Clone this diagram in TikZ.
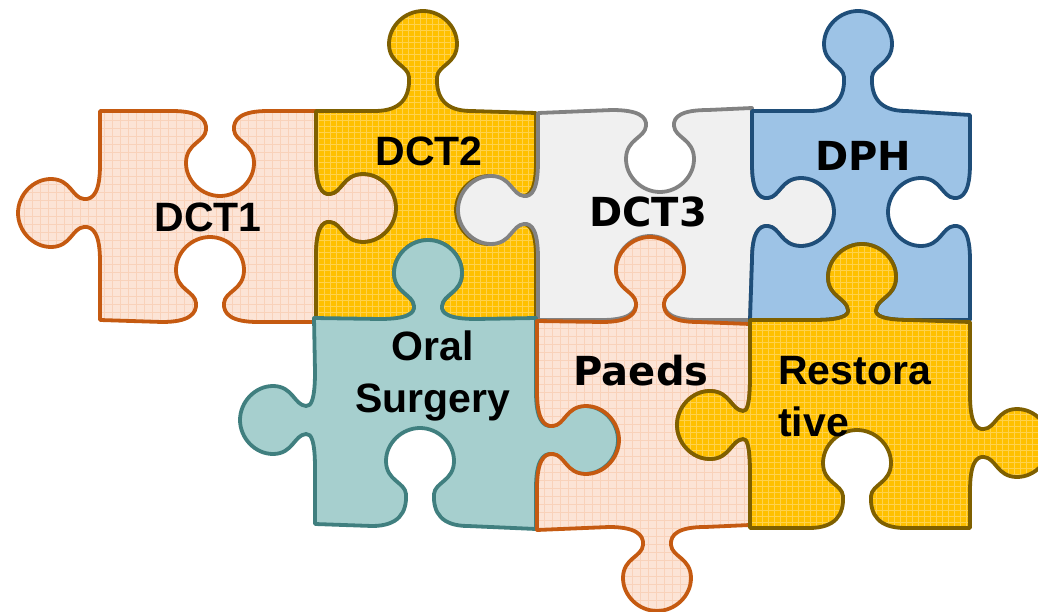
\documentclass[tikz,border=0pt]{standalone}
\usepackage{fontspec}
\setmainfont{Liberation Sans}
\newfontfamily\dejavu{DejaVu Sans}
\definecolor{peachF}{HTML}{FCE4D6}
\definecolor{peachG}{HTML}{F9D2BA}
\definecolor{peachB}{HTML}{C55A11}
\definecolor{goldF}{HTML}{FFC000}
\definecolor{goldG}{HTML}{FFD24D}
\definecolor{goldB}{HTML}{7F6000}
\definecolor{grayF}{HTML}{F0F0F0}
\definecolor{grayB}{HTML}{828282}
\definecolor{blueF}{HTML}{9DC3E6}
\definecolor{blueB}{HTML}{1F4E79}
\definecolor{tealF}{HTML}{A6CFCE}
\definecolor{tealB}{HTML}{407F7F}
% knob: #1 cx, #2 cy, #3 ux, #4 uy (travel), #5 vx, #6 vy (knob direction), #7 depth
\newcommand\pzknob[7]{%
 -- ({#1+(-48)*(#3)},{#2+(-48)*(#4)})
 .. controls ({#1+(-22)*(#3)},{#2+(-22)*(#4)}) and ({#1+(-13)*(#3)+(0.4*(#7-66))*(#5)},{#2+(-13)*(#4)+(0.4*(#7-66))*(#6)})
 .. ({#1+(-14)*(#3)+(#7-66)*(#5)},{#2+(-14)*(#4)+(#7-66)*(#6)})
 .. controls ({#1+(-15)*(#3)+(#7-54)*(#5)},{#2+(-15)*(#4)+(#7-54)*(#6)}) and ({#1+(-34)*(#3)+(#7-53)*(#5)},{#2+(-34)*(#4)+(#7-53)*(#6)})
 .. ({#1+(-34)*(#3)+(#7-33)*(#5)},{#2+(-34)*(#4)+(#7-33)*(#6)})
 .. controls ({#1+(-34)*(#3)+(#7-15)*(#5)},{#2+(-34)*(#4)+(#7-15)*(#6)}) and ({#1+(-18)*(#3)+(#7)*(#5)},{#2+(-18)*(#4)+(#7)*(#6)})
 .. ({#1+(#7)*(#5)},{#2+(#7)*(#6)})
 .. controls ({#1+(18)*(#3)+(#7)*(#5)},{#2+(18)*(#4)+(#7)*(#6)}) and ({#1+(34)*(#3)+(#7-15)*(#5)},{#2+(34)*(#4)+(#7-15)*(#6)})
 .. ({#1+(34)*(#3)+(#7-33)*(#5)},{#2+(34)*(#4)+(#7-33)*(#6)})
 .. controls ({#1+(34)*(#3)+(#7-53)*(#5)},{#2+(34)*(#4)+(#7-53)*(#6)}) and ({#1+(15)*(#3)+(#7-54)*(#5)},{#2+(15)*(#4)+(#7-54)*(#6)})
 .. ({#1+(14)*(#3)+(#7-66)*(#5)},{#2+(14)*(#4)+(#7-66)*(#6)})
 .. controls ({#1+(13)*(#3)+(0.4*(#7-66))*(#5)},{#2+(13)*(#4)+(0.4*(#7-66))*(#6)}) and ({#1+(22)*(#3)},{#2+(22)*(#4)})
 .. ({#1+(48)*(#3)},{#2+(48)*(#4)})
}
\newcommand\pDCTone{(100,111) \pzknob{220}{111}{1}{0}{0}{1}{85} -- (316,111) \pzknob{316}{208}{0}{1}{1}{0}{80} -- (316,322) \pzknob{210}{322}{-1}{0}{0}{-1}{85} -- (100,320) \pzknob{100}{213}{0}{-1}{-1}{0}{82} -- cycle}
\newcommand\pDCTtwo{(316,111) \pzknob{423}{111}{1}{0}{0}{-1}{100} -- (536,113) \pzknob{536}{210}{0}{1}{-1}{0}{80} -- (536,320) \pzknob{428}{320}{-1}{0}{0}{-1}{80} -- (316,322) \pzknob{316}{208}{0}{-1}{1}{0}{80} -- cycle}
\newcommand\pDCTthree{(538,113) \pzknob{660}{110}{1}{0}{0}{1}{82} -- (752,108) \pzknob{752}{212}{0}{1}{1}{0}{82} -- (750,320) \pzknob{650}{320}{-1}{0}{0}{-1}{84} -- (538,320) \pzknob{538}{210}{0}{-1}{-1}{0}{80} -- cycle}
\newcommand\pDPH{(752,111) \pzknob{858}{111}{1}{0}{0}{-1}{100} -- (970,115) \pzknob{970}{212}{0}{1}{-1}{0}{82} -- (970,320) \pzknob{862}{320}{-1}{0}{0}{-1}{76} -- (750,320) \pzknob{752}{212}{0}{-1}{1}{0}{82} -- cycle}
\newcommand\pOral{(314,318) \pzknob{428}{319}{1}{0}{0}{-1}{79} -- (536,318) \pzknob{536}{440}{0}{1}{1}{0}{82} -- (536,529) \pzknob{420}{526}{-1}{0}{0}{-1}{98} -- (315,524) \pzknob{315}{420}{0}{-1}{-1}{0}{75} -- cycle}
\newcommand\pPaeds{(537,321) \pzknob{650}{322}{1}{0}{0}{-1}{85} -- (750,324) \pzknob{750}{425}{0}{1}{-1}{0}{73} -- (750,525) \pzknob{657}{527}{-1}{0}{0}{1}{84} -- (537,530) \pzknob{537}{440}{0}{-1}{1}{0}{82} -- cycle}
\newcommand\pResto{(750,320) \pzknob{862}{320}{1}{0}{0}{-1}{76} -- (970,322) \pzknob{970}{443}{0}{1}{1}{0}{80} -- (970,528) \pzknob{857}{528}{-1}{0}{0}{-1}{98} -- (750,528) \pzknob{750}{425}{0}{-1}{-1}{0}{73} -- cycle}
\tikzset{
  pz/.style={line width=3.8pt, line join=round},
  gridline/.style={line width=0.6pt},
  lblA/.style={font=\fontsize{41}{52}\selectfont\bfseries, inner sep=0pt},
  lblB/.style={font=\dejavu\fontsize{40}{50}\selectfont\bfseries, inner sep=0pt},
}
\begin{document}
\begin{tikzpicture}[x=1pt,y=-1pt]
\useasboundingbox (0,0) rectangle (1038,612);
\clip (0,0) rectangle (1038,612);
% DCT1
\fill[peachF] \pDCTone;
\begin{scope}
 \clip \pDCTone;
 \foreach \g in {0,8,...,420} \draw[peachG,gridline] (\g,0) -- (\g,340);
 \foreach \g in {80,88,...,340} \draw[peachG,gridline] (0,\g) -- (420,\g);
\end{scope}
\draw[pz,draw=peachB] \pDCTone;
% DCT2
\fill[goldF] \pDCTtwo;
\begin{scope}
 \clip \pDCTtwo;
 \foreach \g in {300,306,...,560} \draw[goldG,gridline] (\g,0) -- (\g,340);
 \foreach \g in {0,6,...,340} \draw[goldG,gridline] (300,\g) -- (560,\g);
\end{scope}
\draw[pz,draw=goldB] \pDCTtwo;
% DCT3
\draw[pz,draw=grayB,fill=grayF] \pDCTthree;
% DPH
\draw[pz,draw=blueB,fill=blueF] \pDPH;
% Oral Surgery
\draw[pz,draw=tealB,fill=tealF] \pOral;
% Paeds
\fill[peachF] \pPaeds;
\begin{scope}
 \clip \pPaeds;
 \foreach \g in {520,528,...,780} \draw[peachG,gridline] (\g,220) -- (\g,612);
 \foreach \g in {224,232,...,612} \draw[peachG,gridline] (520,\g) -- (780,\g);
\end{scope}
\draw[pz,draw=peachB] \pPaeds;
% Restorative
\fill[goldF] \pResto;
\begin{scope}
 \clip \pResto;
 \foreach \g in {660,666,...,1040} \draw[goldG,gridline] (\g,220) -- (\g,540);
 \foreach \g in {222,228,...,540} \draw[goldG,gridline] (660,\g) -- (1040,\g);
\end{scope}
\draw[pz,draw=goldB] \pResto;
% labels
\node[lblA, anchor=base] (t1) at (208,232) {DCT1};
\node[lblA, anchor=base] (t2) at (429,166) {DCT2};
\node[lblB, anchor=base] (t3) at (648,227) {DCT3};
\node[lblB, anchor=base] (t4) at (863,171) {DPH};
\node[lblA, anchor=north, align=center] (t5) at (433,331) {Oral\\Surgery};
\node[lblB, anchor=base] (t6) at (641,385) {Paeds};
\node[lblA, anchor=north west, align=left] (t7) at (778,356) {Restora\\tive};
\end{tikzpicture}
\end{document}
